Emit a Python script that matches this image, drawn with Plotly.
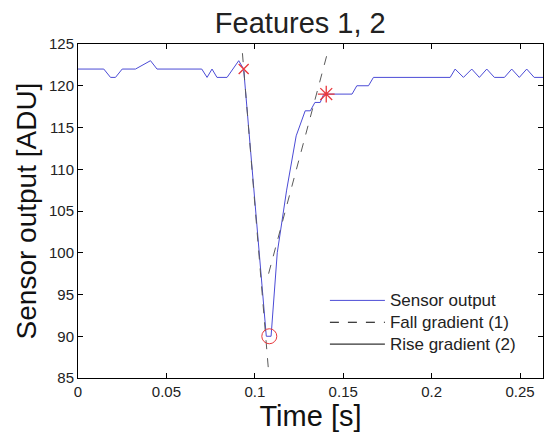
import plotly.graph_objects as go

# Sensor output samples
time_s = [0.0, 0.0146, 0.0184, 0.0212, 0.025, 0.0325, 0.041, 0.0447, 0.070, 0.073,
          0.0758, 0.0786, 0.0843, 0.0909, 0.0937, 0.1065, 0.1092, 0.1127, 0.118,
          0.1234, 0.1285, 0.1314, 0.134, 0.137, 0.139, 0.155, 0.1577, 0.1643, 0.1671,
          0.2105, 0.2133, 0.218, 0.2227, 0.227, 0.2312, 0.2355, 0.2412, 0.2453,
          0.2496, 0.2538, 0.258, 0.263]
sensor = [122, 122, 121, 121, 122, 122, 123, 122, 122, 121,
          122, 121, 121, 123, 122, 90, 90, 100, 107.5,
          114, 117, 117, 118, 118, 119, 119, 120, 120, 121,
          121, 122, 121, 122, 121, 122, 121, 121, 122,
          121, 122, 121, 121]

# Gradient lines (end points)
fall_t = [0.0930, 0.1079]
fall_v = [123.9, 85.5]
rise_t = [0.1078, 0.1408]
rise_v = [97.5, 123.7]

# Feature markers
start_pt = (0.0937, 122)
min_pt = (0.1082, 90)
end_pt = (0.1404, 119)

x_ticks = [0, 0.05, 0.1, 0.15, 0.2, 0.25]
x_tick_labels = ["0", "0.05", "0.1", "0.15", "0.2", "0.25"]
y_ticks = [85, 90, 95, 100, 105, 110, 115, 120, 125]
legend_names = ["Sensor output", "Fall gradient (1)", "Rise gradient (2)"]

FONT = "Liberation Sans, Arial, sans-serif"
BLUE = "#4b4bd6"
GRAY = "#5a5a5a"
RED = "#e8383d"


def big(name):
    return "<span style='font-size:17px'>" + name + "</span>"


fig = go.Figure()
fig.add_trace(go.Scatter(x=time_s, y=sensor, mode="lines",
                         line=dict(color=BLUE, width=1), name=big(legend_names[0])))
fig.add_trace(go.Scatter(x=fall_t, y=fall_v, mode="lines",
                         line=dict(color=GRAY, width=1, dash="dash"), showlegend=False))
fig.add_trace(go.Scatter(x=rise_t, y=rise_v, mode="lines",
                         line=dict(color=GRAY, width=1, dash="dash"), showlegend=False))
# legend-only entries
fig.add_trace(go.Scatter(x=[None], y=[None], mode="lines",
                         line=dict(color="black", width=1, dash="dash"), name=big(legend_names[1])))
fig.add_trace(go.Scatter(x=[None], y=[None], mode="lines",
                         line=dict(color="black", width=1), name=big(legend_names[2])))

fig.add_trace(go.Scatter(x=[start_pt[0]], y=[start_pt[1]], mode="markers", showlegend=False,
                         marker=dict(symbol="x-thin-open", size=10, color=RED,
                                     line=dict(color=RED, width=1.3))))
fig.add_trace(go.Scatter(x=[min_pt[0]], y=[min_pt[1]], mode="markers", showlegend=False,
                         marker=dict(symbol="circle-open", size=15, color=RED,
                                     line=dict(color=RED, width=1))))
fig.add_trace(go.Scatter(x=[end_pt[0]], y=[end_pt[1]], mode="markers", showlegend=False,
                         marker=dict(symbol="asterisk-open", size=14, color=RED,
                                     line=dict(color=RED, width=1.3))))

fig.update_layout(
    width=547, height=435,
    margin=dict(l=78, r=4, t=44, b=57),
    paper_bgcolor="white", plot_bgcolor="white",
    font=dict(family=FONT, color="black"),
    title=dict(text="Features 1, 2", x=0.549, xanchor="center", y=0.947, yanchor="middle",
               font=dict(size=29, family=FONT, color="#222")),
    showlegend=True,
    legend=dict(x=0.531, y=0.28, xanchor="left", yanchor="top", bgcolor="rgba(255,255,255,0)",
                font=dict(size=14.5, family=FONT, color="#222"), itemwidth=55, tracegroupgap=0),
)
fig.update_xaxes(range=[0, 0.263], tickvals=x_ticks, ticktext=x_tick_labels, automargin=False,
                 ticks="inside", ticklen=5, tickcolor="black", mirror="ticks",
                 showline=True, linecolor="black", linewidth=1, showgrid=False, zeroline=False,
                 tickfont=dict(size=15, color="#222"),
                 title=dict(text="Time [s]", font=dict(size=29, color="#111"), standoff=2))
fig.update_yaxes(range=[85, 125], tickvals=y_ticks, automargin=False,
                 ticks="inside", ticklen=5, tickcolor="black", mirror="ticks",
                 showline=True, linecolor="black", linewidth=1, showgrid=False, zeroline=False,
                 tickfont=dict(size=15, color="#222"),
                 title=dict(text="Sensor output [ADU]", font=dict(size=28, color="#111"), standoff=4))

fig.write_html("out.html", config={"displayModeBar": False},
               post_script="document.body.style.margin='0';")
